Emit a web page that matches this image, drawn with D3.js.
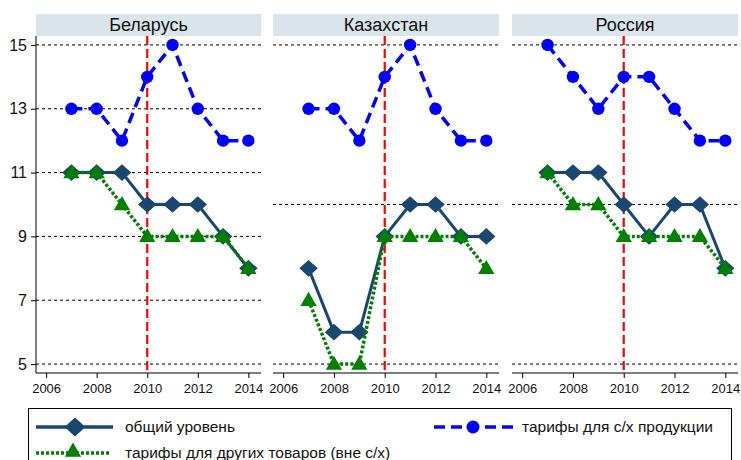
<!DOCTYPE html>
<html><head><meta charset="utf-8">
<script src="https://cdn.jsdelivr.net/npm/d3@7"></script>
<style>body{margin:0;background:#fff}svg{display:block;font-family:"Liberation Sans",Arial,sans-serif}</style>
</head><body><svg id="c" width="741" height="460"></svg>
<script>
const years = [2007,2008,2009,2010,2011,2012,2013,2014];
const countries = ["Беларусь","Казахстан","Россия"];
const overall = [[11,11,11,10,10,10,9,8],[8,6,6,9,10,10,9,9],[11,11,11,10,9,10,10,8]];
const other   = [[11,11,10,9,9,9,9,8],[7,5,5,9,9,9,9,8],[11,10,10,9,9,9,9,8]];
const agri    = [[13,13,12,14,15,13,12,12],[13,13,12,14,15,13,12,12],[15,14,13,14,14,13,12,12]];
const xTicks = [2006,2008,2010,2012,2014];
const yTicksFirst = [5,7,9,11,13,15];
const gridOthers = [5,10,15];
const seriesNames = ["общий уровень","тарифы для других товаров (вне с/х)","тарифы для с/х продукции"];

(function(){
const svg = d3.select("#c");
const panels = [[36,261],[273,499],[512,738]];
const pTop = 36, pBottom = 373;
const y = d3.scaleLinear().domain([4.72,15.28]).range([pBottom, pTop]);
const navy="#1a476f", green="#008000", blue="#0000ff";

const diamond = d3.symbol().type(d3.symbolSquare).size(140);
const diamondL = d3.symbol().type(d3.symbolSquare).size(180);
const dRot = " scale(1.1,1) rotate(45)";
const tri = d3.symbol().type(d3.symbolTriangle).size(115);

countries.forEach((c,i)=>{
  const [x0,x1] = panels[i];
  const x = d3.scaleLinear().domain([2005.6,2014.5]).range([x0,x1]);
  const g = svg.append("g");
  g.append("rect").attr("x",x0).attr("y",14).attr("width",x1-x0).attr("height",pTop-14).attr("fill","#d9e5eb");
  g.append("text").attr("x",(x0+x1)/2).attr("y",31).attr("text-anchor","middle").attr("font-size",18).attr("fill","#111").text(c);
  const gv = i===0 ? yTicksFirst : gridOthers;
  g.selectAll(".grid").data(gv).join("line").attr("x1",x0).attr("x2",x1)
    .attr("y1",d=>y(d)).attr("y2",d=>y(d)).attr("stroke","#000").attr("stroke-width",1).attr("stroke-dasharray","3,3");
  const xa = g.append("g").attr("transform",`translate(0,${pBottom})`).call(d3.axisBottom(x).tickValues(xTicks).tickFormat(d3.format("d")).tickSize(5).tickSizeOuter(0));
  xa.select(".domain").attr("stroke","#000").attr("d",`M${x0},0H${x1}`);
  xa.selectAll("text").attr("font-size",13).attr("fill","#111").attr("font-family","Liberation Sans, Arial").attr("dy","0.95em");
  if(i===0){
    const ya = g.append("g").attr("transform",`translate(${x0},0)`).call(d3.axisLeft(y).tickValues(yTicksFirst).tickSize(5).tickPadding(4).tickSizeOuter(0));
    ya.select(".domain").attr("d",`M0,${pTop}V${pBottom}`).attr("stroke","#000");
    ya.selectAll("text").attr("font-size",16).attr("fill","#111").attr("font-family","Liberation Sans, Arial");
  }
  g.append("line").attr("x1",x(2010)).attr("x2",x(2010)).attr("y1",pTop).attr("y2",pBottom)
    .attr("stroke","#ff0000").attr("stroke-width",2.2).attr("stroke-dasharray","9,4");
  const line = d3.line().x((d,j)=>x(years[j])).y(d=>y(d));
  g.append("path").attr("d",line(agri[i])).attr("fill","none").attr("stroke",blue).attr("stroke-width",3.5).attr("stroke-dasharray","11,6");
  g.selectAll(".ac").data(agri[i]).join("circle").attr("cx",(d,j)=>x(years[j])).attr("cy",d=>y(d)).attr("r",6.2).attr("fill",blue);
  g.append("path").attr("d",line(overall[i])).attr("fill","none").attr("stroke",navy).attr("stroke-width",3);
  g.selectAll(".od").data(overall[i]).join("path").attr("d",diamond).attr("transform",(d,j)=>`translate(${x(years[j])},${y(d)})`+dRot).attr("fill",navy);
  g.append("path").attr("d",line(other[i])).attr("fill","none").attr("stroke",green).attr("stroke-width",3.5).attr("stroke-dasharray","3,2");
  g.selectAll(".ot").data(other[i]).join("path").attr("d",tri).attr("transform",(d,j)=>`translate(${x(years[j])},${y(d)+1})`).attr("fill",green);
});

const lg = svg.append("g");
lg.append("rect").attr("x",28.5).attr("y",408.5).attr("width",703).attr("height",60).attr("fill","#fff").attr("stroke","#000").attr("stroke-width",1);
lg.append("line").attr("x1",36).attr("x2",113).attr("y1",427).attr("y2",427).attr("stroke",navy).attr("stroke-width",3.5);
lg.append("path").attr("d",diamondL).attr("transform","translate(75,427)"+dRot).attr("fill",navy);
lg.append("text").attr("x",125).attr("y",432).attr("font-size",15.5).attr("fill","#111").text(seriesNames[0]);
lg.append("line").attr("x1",36).attr("x2",110).attr("y1",453).attr("y2",453).attr("stroke",green).attr("stroke-width",3.5).attr("stroke-dasharray","3,2");
lg.append("path").attr("d",tri).attr("transform","translate(73,452)").attr("fill",green);
lg.append("text").attr("x",125).attr("y",458).attr("font-size",15.5).attr("fill","#111").text(seriesNames[1]);
lg.append("line").attr("x1",434).attr("x2",513).attr("y1",427).attr("y2",427).attr("stroke",blue).attr("stroke-width",3.5).attr("stroke-dasharray","11,6");
lg.append("circle").attr("cx",473).attr("cy",427).attr("r",6.5).attr("fill",blue);
lg.append("text").attr("x",522).attr("y",432).attr("font-size",15.5).attr("fill","#111").text(seriesNames[2]);
})();
</script></body></html>
